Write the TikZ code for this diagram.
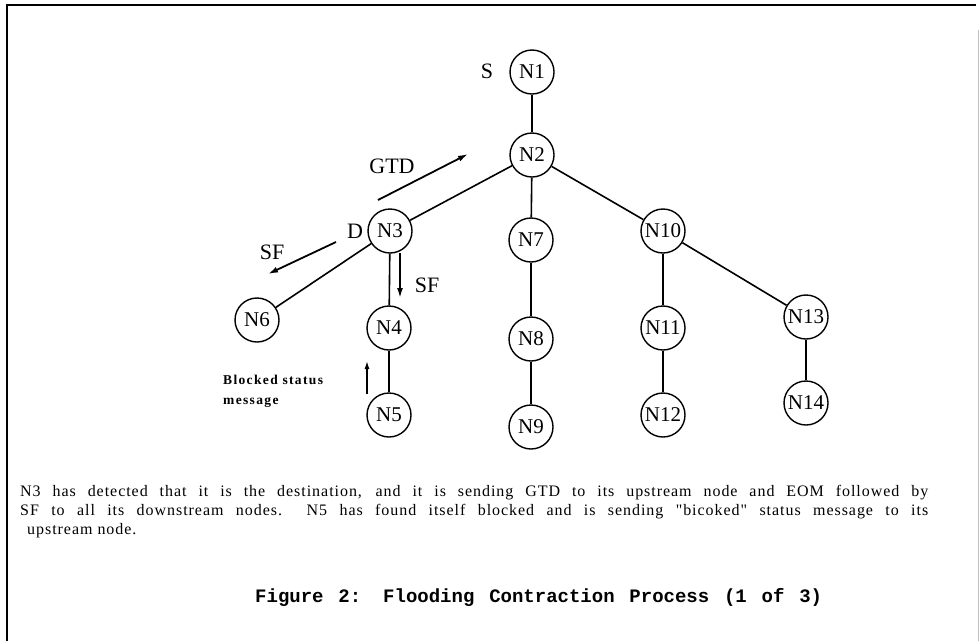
\documentclass[tikz,border=0pt]{standalone}
\usepackage{fontspec}
\setmainfont{Liberation Serif}
\newfontfamily\bodyfont[LetterSpace=6]{Liberation Serif}
\newfontfamily\blockfont[LetterSpace=10]{Liberation Serif}
\newfontfamily\capfont{Liberation Mono}
\usetikzlibrary{arrows.meta}
\begin{document}
\begin{tikzpicture}[x=1pt,y=-1pt,
  nd/.style={circle,draw,line width=1.4pt,minimum size=44pt,inner sep=0pt,font=\fontsize{21}{21}\selectfont},
  link/.style={line width=1.6pt},
  msg/.style={line width=1.8pt,-{Latex[length=10pt,width=6pt]}},
  lbl/.style={font=\fontsize{22}{22}\selectfont,inner sep=0pt},
  body/.style={anchor=west,inner sep=0pt,font=\bodyfont\fontsize{16}{16}\selectfont}]
\useasboundingbox (0,0) rectangle (980,641);
% frame
\draw[line width=2.5pt] (7,641) -- (7,5) -- (976,5);
\draw[line width=0.8pt,black!25] (978.5,30) -- (978.5,641);
% nodes
\node[nd] (n1) at (532,72) {N1};
\node[nd] (n2) at (532,155) {N2};
\node[nd] (n3) at (390,231) {N3};
\node[nd] (n7) at (531,240) {N7};
\node[nd] (n10) at (663,231) {N10};
\node[nd] (n6) at (257,320) {N6};
\node[nd] (n4) at (389,328) {N4};
\node[nd] (n8) at (531,339) {N8};
\node[nd] (n11) at (663,328) {N11};
\node[nd] (n13) at (806,317) {N13};
\node[nd] (n5) at (389,415) {N5};
\node[nd] (n9) at (531,427) {N9};
\node[nd] (n12) at (663,415) {N12};
\node[nd] (n14) at (806,403) {N14};
% links
\draw[link] (n1) -- (n2);
\draw[link] (n2) -- (n3);
\draw[link] (n2) -- (n7);
\draw[link] (n2) -- (n10);
\draw[link] (n3) -- (n6);
\draw[link] (n3) -- (n4);
\draw[link] (n4) -- (n5);
\draw[link] (n7) -- (n8);
\draw[link] (n8) -- (n9);
\draw[link] (n10) -- (n11);
\draw[link] (n10) -- (n13);
\draw[link] (n11) -- (n12);
\draw[link] (n13) -- (n14);
% labels
\node[lbl] (s) at (487,71) {S};
\node[lbl] (d) at (355,231) {D};
\node[lbl] (gtd) at (392,166) {GTD};
\node[lbl] (sf1) at (272,252) {SF};
\node[lbl] (sf2) at (427,285) {SF};
% message arrows
\coordinate (gA) at (378,200);
\coordinate (gB) at (468,154);
\draw[msg] (gA) -- (gB);
\coordinate (fA) at (336,242);
\coordinate (fB) at (268,274);
\draw[msg] (fA) -- (fB);
\coordinate (dA) at (400,253);
\coordinate (dB) at (400,298);
\draw[msg] (dA) -- (dB);
\coordinate (bA) at (367,394);
\coordinate (bB) at (367,361);
\draw[line width=1.4pt,-{Latex[length=8pt,width=5pt]}] (bA) -- (bB);
\node[anchor=west,inner sep=0pt,font=\blockfont\bfseries\fontsize{13.5}{13.5}\selectfont] (blk1) at (223,380) {Blocked status};
\node[anchor=west,inner sep=0pt,font=\blockfont\bfseries\fontsize{13.5}{13.5}\selectfont] (blk2) at (223,403) {message};
% description
\node[body] (t1) at (20,493) {\makebox[908pt][s]{N3 has detected that it is the destination, and it is sending GTD to its upstream node and EOM followed by}};
\node[body] (t2) at (20,512) {\makebox[908pt][s]{SF to all its downstream nodes.\ \ N5 has found itself blocked and is sending "bicoked" status message to its}};
\node[body] (t3) at (27,531) {upstream node.};
% caption
\node[anchor=west,inner sep=0pt,font=\capfont\bfseries\fontsize{19}{19}\selectfont] (cap) at (255,597) {\makebox[567pt][s]{Figure 2: Flooding Contraction Process (1 of 3)}};
\end{tikzpicture}
\end{document}
